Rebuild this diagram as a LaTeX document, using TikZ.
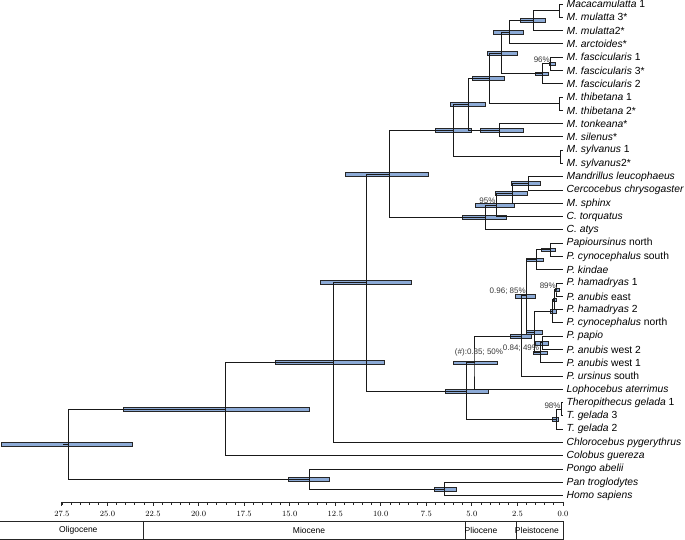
\documentclass[tikz,border=0pt]{standalone}
\usepackage{fontspec}
\setmainfont{Liberation Sans}
\usetikzlibrary{calc}
\definecolor{hpdblue}{RGB}{140,170,214}
\definecolor{treeline}{RGB}{25,25,25}
\definecolor{labelgray}{RGB}{55,55,55}

\tikzset{
  branch/.style={draw=treeline,line width=1pt},
  hpdbar/.style={fill=hpdblue,draw=black!85,line width=0.55pt},
  taxon/.style={anchor=west,inner sep=0pt,xshift=3.5pt,font=\fontsize{10.3}{12}\selectfont},
  support/.style={anchor=south east,inner sep=1pt,text=labelgray,font=\fontsize{8}{9}\selectfont},
  ticklabel/.style={inner sep=0pt,font=\fontsize{8.5}{10}\selectfont},
  epochline/.style={draw=black!85,line width=0.9pt},
  epochlabel/.style={inner sep=0pt,font=\fontsize{8.5}{10}\selectfont}
}
% HPD bar of a node: \hpd{node}{oldest}{youngest}
\newcommand{\hpd}[3]{\draw[hpdbar] ($(#2,0 |- #1)+(0,1.9pt)$) rectangle ($(#3,0 |- #1)-(0,1.9pt)$);}

\begin{document}
\begin{tikzpicture}[x=-18.22pt,y=-13.29pt]
\useasboundingbox (30.9,0.699) rectangle (-6.696,41.33);

% tips and taxon names
\foreach \txt [count=\i] in {
  {\textit{Macacamulatta} 1},{\textit{M. mulatta} 3*},{\textit{M. mulatta}2*},{\textit{M. arctoides}*},
  {\textit{M. fascicularis} 1},{\textit{M. fascicularis} 3*},{\textit{M. fascicularis} 2},
  {\textit{M. thibetana} 1},{\textit{M. thibetana} 2*},{\textit{M. tonkeana}*},{\textit{M. silenus}*},
  {\textit{M. sylvanus} 1},{\textit{M. sylvanus}2*},{\textit{Mandrillus leucophaeus}},
  {\textit{Cercocebus chrysogaster}},{\textit{M. sphinx}},{\textit{C. torquatus}},{\textit{C. atys}},
  {\textit{Papioursinus} north},{\textit{P. cynocephalus} south},{\textit{P. kindae}},
  {\textit{P. hamadryas} 1},{\textit{P. anubis} east},{\textit{P. hamadryas} 2},
  {\textit{P. cynocephalus} north},{\textit{P. papio}},{\textit{P. anubis} west 2},
  {\textit{P. anubis} west 1},{\textit{P. ursinus} south},{\textit{Lophocebus aterrimus}},
  {\textit{Theropithecus gelada} 1},{\textit{T. gelada} 3},{\textit{T. gelada} 2},
  {\textit{Chlorocebus pygerythrus}},{\textit{Colobus guereza}},{\textit{Pongo abelii}},
  {\textit{Pan troglodytes}},{\textit{Homo sapiens}}}
{
  \coordinate (l\i) at (0,\i);
  \node[taxon] (n\i) at (l\i) {\txt};
}

% internal nodes (age in Myr, row)
\coordinate (mm1) at (0.2,1.5);
\coordinate (mm2) at (1.6,2.25);
\coordinate (arc) at (2.96,3.125);
\coordinate (fa1) at (0.66,5.5);
\coordinate (fa2) at (1.15,6.25);
\coordinate (mfa) at (3.35,4.6875);
\coordinate (thb) at (0.2,8.5);
\coordinate (mth) at (4.06,6.594);
\coordinate (tks) at (3.46,10.5);
\coordinate (maca) at (5.2,8.547);
\coordinate (syl) at (0.13,12.5);
\coordinate (mac) at (6.02,10.523);
\coordinate (mc) at (1.9,14.5);
\coordinate (mcs) at (2.76,15.25);
\coordinate (mcst) at (3.64,16.125);
\coordinate (pap) at (4.24,17.0625);
\coordinate (macpap) at (9.5,13.793);
\coordinate (pn) at (0.71,19.5);
\coordinate (kp) at (1.48,20.25);
\coordinate (h1) at (0.33,22.5);
\coordinate (h2) at (0.47,23.25);
\coordinate (h3) at (0.57,24.125);
\coordinate (pw) at (1.1,26.5);
\coordinate (p1) at (1.25,27.25);
\coordinate (q) at (1.54,25.6875);
\coordinate (k) at (1.98,22.969);
\coordinate (rr) at (2.27,25.984);
\coordinate (lo) at (4.83,27.992);
\coordinate (th1) at (0.07,31.5);
\coordinate (th2) at (0.38,32.25);
\coordinate (tt) at (5.29,30.121);
\coordinate (pin) at (10.78,21.957);
\coordinate (cer) at (12.6,27.979);
\coordinate (owm) at (18.5,31.489);
\coordinate (ph) at (6.48,37.5);
\coordinate (hom) at (13.89,36.75);
\coordinate (root) at (27.15,34.12);

% 95% HPD bars
\hpd{root}{30.85}{23.64}
\hpd{owm}{24.15}{13.95}
\hpd{hom}{15.08}{12.83}
\hpd{ph}{7.06}{5.87}
\hpd{cer}{15.77}{9.82}
\hpd{pin}{13.3}{8.31}
\hpd{macpap}{11.96}{7.39}
\hpd{mac}{7.02}{5.01}
\hpd{maca}{6.2}{4.28}
\hpd{mth}{5.0}{3.2}
\hpd{mfa}{4.17}{2.52}
\hpd{arc}{3.84}{2.2}
\hpd{mm2}{2.36}{0.99}
\hpd{fa1}{0.75}{0.45}
\hpd{fa2}{1.54}{0.82}
\hpd{tks}{4.56}{2.2}
\hpd{mc}{2.82}{1.22}
\hpd{mcs}{3.73}{1.94}
\hpd{mcst}{4.83}{2.67}
\hpd{pap}{5.53}{3.13}
\hpd{pn}{1.17}{0.44}
\hpd{kp}{2.03}{1.08}
\hpd{k}{2.63}{1.54}
\hpd{h1}{0.4}{0.22}
\hpd{h2}{0.53}{0.35}
\hpd{h3}{0.71}{0.38}
\hpd{q}{2.03}{1.11}
\hpd{pw}{1.54}{0.82}
\hpd{p1}{1.65}{0.88}
\hpd{rr}{2.91}{1.72}
\hpd{lo}{6.04}{3.62}
\hpd{tt}{6.48}{4.1}
\hpd{th2}{0.6}{0.28}

% branches
\draw[branch] (l1) -| (mm1) |- (l2);
\draw[branch] (mm1) -| (mm2) |- (l3);
\draw[branch] (mm2) -| (arc) |- (l4);
\draw[branch] (l5) -| (fa1) |- (l6);
\draw[branch] (fa1) -| (fa2) |- (l7);
\draw[branch] (arc) -| (mfa) |- (fa2);
\draw[branch] (l8) -| (thb) |- (l9);
\draw[branch] (mfa) -| (mth) |- (thb);
\draw[branch] (l10) -| (tks) |- (l11);
\draw[branch] (mth) -| (maca) |- (tks);
\draw[branch] (l12) -| (syl) |- (l13);
\draw[branch] (maca) -| (mac) |- (syl);
\draw[branch] (l14) -| (mc) |- (l15);
\draw[branch] (mc) -| (mcs) |- (l16);
\draw[branch] (mcs) -| (mcst) |- (l17);
\draw[branch] (mcst) -| (pap) |- (l18);
\draw[branch] (mac) -| (macpap) |- (pap);
\draw[branch] (l19) -| (pn) |- (l20);
\draw[branch] (pn) -| (kp) |- (l21);
\draw[branch] (l22) -| (h1) |- (l23);
\draw[branch] (h1) -| (h2) |- (l24);
\draw[branch] (h2) -| (h3) |- (l25);
\draw[branch] (l26) -| (pw) |- (l27);
\draw[branch] (pw) -| (p1) |- (l28);
\draw[branch] (h3) -| (q) |- (p1);
\draw[branch] (kp) -| (k) |- (q);
\draw[branch] (k) -| (rr) |- (l29);
\draw[branch] (rr) -| (lo) |- (l30);
\draw[branch] (l31) -| (th1) |- (l32);
\draw[branch] (th1) -| (th2) |- (l33);
\draw[branch] (lo) -| (tt) |- (th2);
\draw[branch] (macpap) -| (pin) |- (tt);
\draw[branch] (pin) -| (cer) |- (l34);
\draw[branch] (cer) -| (owm) |- (l35);
\draw[branch] (l37) -| (ph) |- (l38);
\draw[branch] (l36) -| (hom) |- (ph);
\draw[branch] (owm) -| (root) |- (hom);
\draw[branch] (root) -- ++(-5pt,0);

% support values
\node[support] (s96) at (fa1) {96\%};
\node[support] (s95) at (mcst) {95\%};
\node[support] (sk) at (k) {0.96; 85\%};
\node[support] (s89) at (h1) {89\%};
\node[support] (sp1) at (p1) {0.84; 49\%};
\node[support,anchor=south] (slo) at ([xshift=4pt,yshift=5pt]lo) {(\textit{\#}):0.85; 50\%};
\node[support] (s98) at (th1) {98\%};

% time axis
\coordinate (axL) at (27.5,38.47);
\coordinate (axR) at (0,38.47);
\draw[black!85,line width=0.9pt] (axL) -- (axR);
\foreach \t in {0,0.5,...,27.5}
  \draw[black!85,line width=0.8pt] (\t,38.47) -- ++(0,-2.8pt);
\foreach \t [count=\k] in {0,2.5,...,27.5} {
  \draw[black!85,line width=0.9pt] (\t,38.47) -- ++(0,-4.5pt);
  \node[ticklabel] (tk\k) at ([yshift=-11.5pt]\t,38.47) {\pgfmathprintnumber[fixed,fixed zerofill,precision=1]{\t}};
}

% geological epochs
\draw[epochline] (30.9,39.9) -- (0,39.9) -- (0,41.26) -- (30.9,41.26);
\foreach \b in {23.03,5.33,2.58}
  \draw[epochline] (\b,39.9) -- (\b,41.26);
\node[epochlabel] (oli) at (26.6,40.58) {Oligocene};
\node[epochlabel] (mio) at (13.94,40.58) {Miocene};
\node[epochlabel] (pli) at (4.5,40.58) {Pliocene};
\node[epochlabel] (ple) at (1.43,40.58) {Pleistocene};
\end{tikzpicture}
\end{document}
